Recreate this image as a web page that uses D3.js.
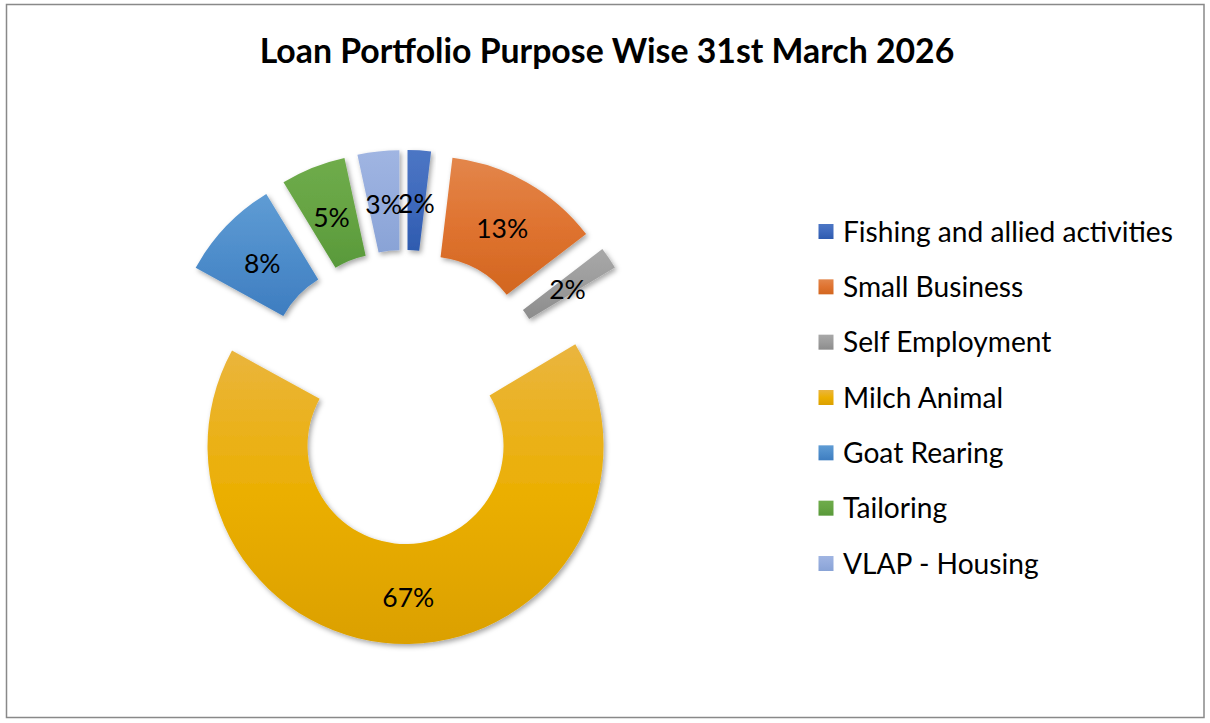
<!DOCTYPE html>
<html>
<head>
<meta charset="utf-8">
<script src="https://cdn.jsdelivr.net/npm/d3@7/dist/d3.min.js"></script>
<style>
  html, body { margin: 0; padding: 0; background: #ffffff; }
  svg { display: block; }
</style>
</head>
<body>
<script>
// ---- data ----
const title = "Loan Portfolio Purpose Wise 31st March 2026";
const categories = ["Fishing and allied activities", "Small Business", "Self Employment",
                    "Milch Animal", "Goat Rearing", "Tailoring", "VLAP - Housing"];
const shares = [1.9, 12.7, 1.8, 66.6, 8.3, 5.3, 3.4];
const colorTop = ["#4C76C4", "#E3864B", "#A8A8A8", "#EAB53F", "#5F9CD4", "#6FAC4B", "#A0B5E2"];
const colorMid = ["#3F6ABD", "#DF7330", "#9C9C9C", "#EBAF02", "#4E8DCB", "#66A443", "#95ACDD"];
const colorBottom = ["#2E5BAF", "#D2661F", "#8C8C8C", "#DBA000", "#3E7DC0", "#58993A", "#89A3D6"];

// ---- layout ----
const W = 1210, H = 723;
const cx = 404.6, cy = 397, R = 198, r0 = 98, explode = 49;
const FONT = "Lato, 'Noto Sans', sans-serif";

const svg = d3.select("body").append("svg").attr("width", W).attr("height", H);
const defs = svg.append("defs");

function fitSize(text, weight, target) {
  const t = svg.append("text").attr("font-family", FONT).attr("font-weight", weight)
    .attr("font-size", 100).text(text);
  const w = t.node().getComputedTextLength();
  t.remove();
  return 100 * target / w;
}

categories.forEach((c, i) => {
  const g = defs.append("linearGradient").attr("id", "grad" + i)
    .attr("x1", 0).attr("y1", 0).attr("x2", 0).attr("y2", 1);
  g.append("stop").attr("offset", "0%").attr("stop-color", colorTop[i]);
  g.append("stop").attr("offset", "50%").attr("stop-color", colorMid[i]);
  g.append("stop").attr("offset", "100%").attr("stop-color", colorBottom[i]);
});
const f = defs.append("filter").attr("id", "shadow")
  .attr("x", "-20%").attr("y", "-20%").attr("width", "140%").attr("height", "140%");
f.append("feDropShadow").attr("dx", 2).attr("dy", 2.5).attr("stdDeviation", 2.5)
  .attr("flood-color", "#000").attr("flood-opacity", 0.35);

// border
svg.append("rect").attr("x", 6.5).attr("y", 4.5).attr("width", 1197.5).attr("height", 713)
  .attr("fill", "#ffffff").attr("stroke", "#898989").attr("stroke-width", 1.5);

// title
const titleSize = fitSize(title, "bold", 695);
svg.append("text").attr("x", 607).attr("y", 63).attr("text-anchor", "middle")
  .attr("font-family", FONT).attr("font-weight", "bold").attr("font-size", titleSize)
  .attr("fill", "#000").text(title);

// doughnut
const data = categories.map((c, i) => ({ name: c, value: shares[i], i }));
const total = d3.sum(shares);
const pie = d3.pie().value(d => d.value).sort(null).startAngle(0).endAngle(2 * Math.PI);
const arc = d3.arc().innerRadius(r0).outerRadius(R);
const arcs = pie(data);

const chart = svg.append("g").attr("transform", `translate(${cx},${cy})`);
const slices = chart.selectAll("g.slice").data(arcs).join("g").attr("class", "slice")
  .attr("transform", d => {
    const m = (d.startAngle + d.endAngle) / 2;
    return `translate(${explode * Math.sin(m)},${-explode * Math.cos(m)})`;
  });
slices.append("path").attr("d", arc).attr("fill", d => `url(#grad${d.data.i})`)
  .attr("filter", "url(#shadow)");

const labelSize = fitSize("67%", "normal", 52);
slices.append("text")
  .attr("transform", d => { const c = arc.centroid(d); return `translate(${c[0]},${c[1] + 3})`; })
  .attr("text-anchor", "middle").attr("dy", "0.36em")
  .attr("font-family", FONT).attr("font-size", labelSize).attr("fill", "#000")
  .text(d => Math.round(d.data.value / total * 100) + "%");

// legend
const legendSize = fitSize(categories[0], "normal", 330);
const ly = d3.scalePoint().domain(categories).range([231.5, 563.5]);
const leg = svg.append("g").selectAll("g").data(categories).join("g")
  .attr("transform", d => `translate(818.5,${ly(d)})`);
leg.append("rect").attr("x", 0).attr("y", -7.5).attr("width", 15).attr("height", 15)
  .attr("fill", (d, i) => `url(#grad${i})`);
leg.append("text").attr("x", 24.5).attr("y", 0).attr("dy", "0.36em")
  .attr("font-family", FONT).attr("font-size", legendSize).attr("fill", "#000")
  .text(d => d);
</script>
</body>
</html>
